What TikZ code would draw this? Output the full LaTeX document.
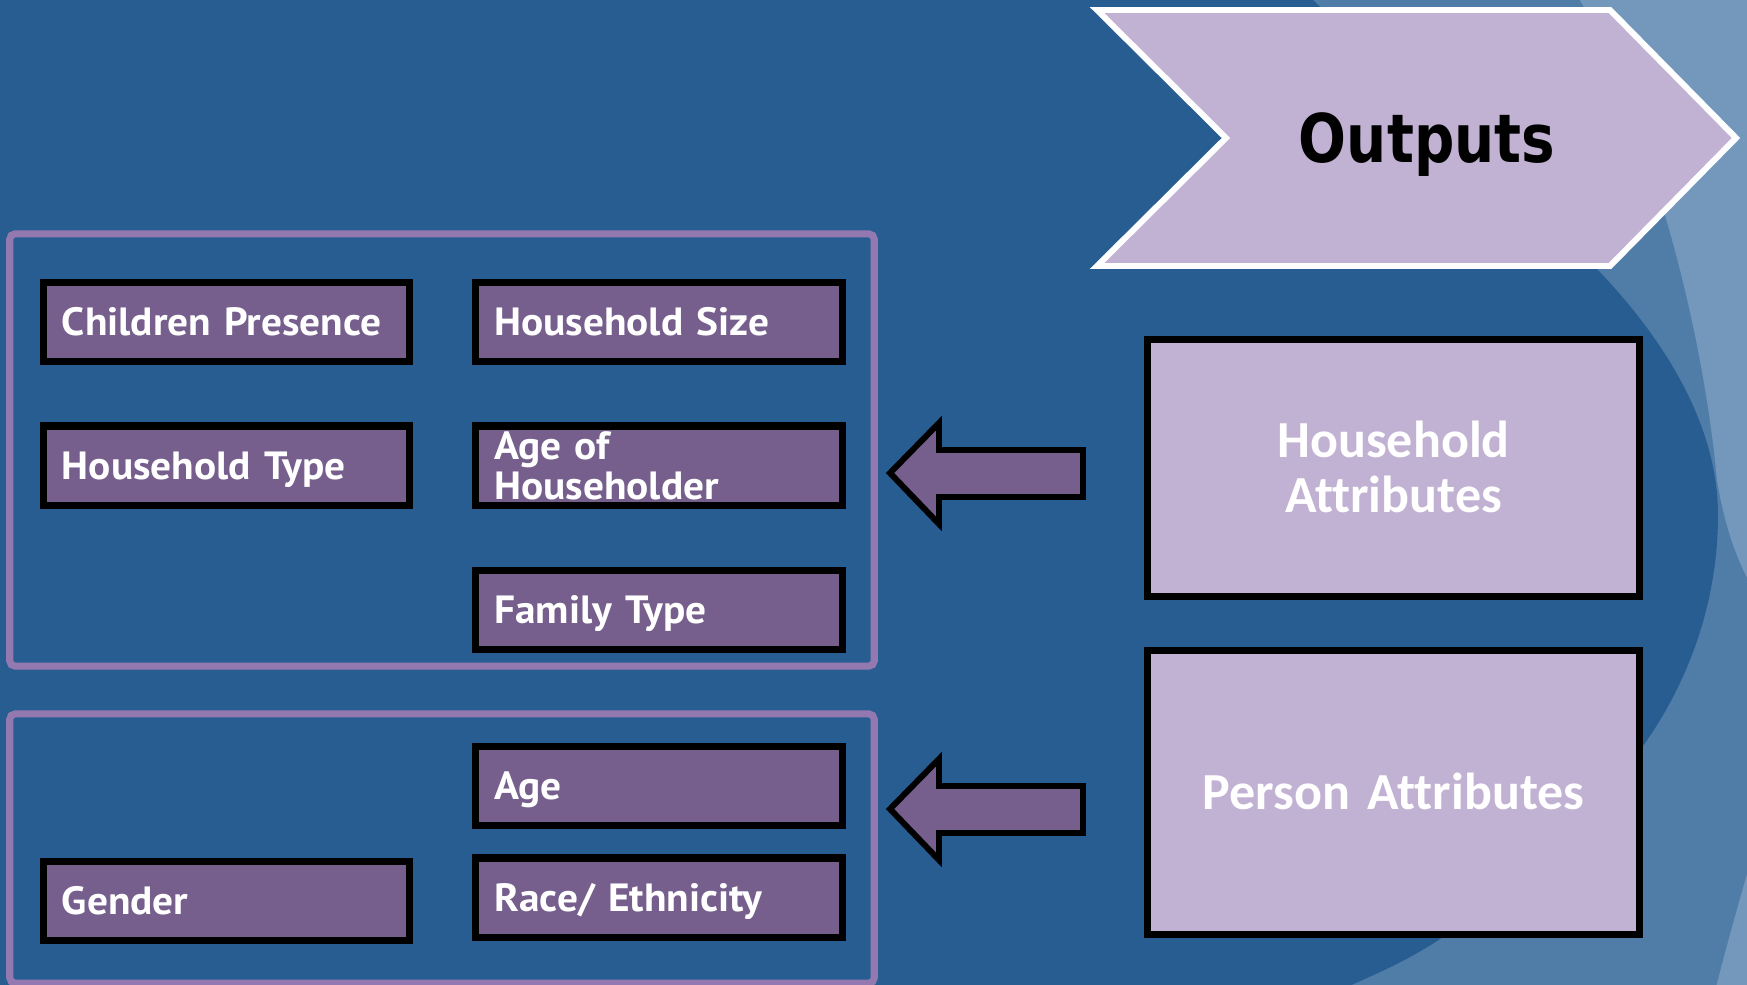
\documentclass[tikz,border=0pt]{standalone}
\usepackage{fontspec}
\usepackage{graphicx}
\setmainfont[FakeStretch=1.05, WordSpace=0.75]{PT Sans}
\newfontfamily\attrfont[Ligatures=NoCommon]{Carlito}
\newfontfamily\headfont{DejaVu Sans}
\definecolor{bgdark}{HTML}{275D91}
\definecolor{bgmid}{HTML}{507DA8}
\definecolor{bglight}{HTML}{7398BC}
\definecolor{lavender}{HTML}{C1B1D2}
\definecolor{boxpurple}{HTML}{765F8C}
\definecolor{grpline}{HTML}{9479B0}
\begin{document}
\begin{tikzpicture}[x=0.01cm,y=-0.01cm,
  attr/.style={draw=black, line width=2pt, fill=boxpurple, text=white,
    inner xsep=0.185cm, inner ysep=0pt, text width=3.29cm, align=left,
    minimum height=0.79cm, font=\fontsize{11.2}{11.4}\selectfont\bfseries,
    text height=7.8pt, text depth=0pt},
  group/.style={draw=grpline, line width=2pt, rounded corners=1.5pt,
    minimum width=8.64cm, inner sep=0pt},
  bigbox/.style={draw=black, line width=1.8pt, fill=lavender, text=white,
    inner sep=0pt, minimum width=4.92cm, text width=4.92cm, align=center,
    font=\attrfont\fontsize{14.8}{15.6}\selectfont\bfseries,
    text height=9.5pt, text depth=0pt},
  blockarrow/.style={draw=black, line width=1.7pt, fill=boxpurple, line join=miter},
  chevron/.style={draw=white, line width=1.7pt, fill=lavender, line join=miter}
]
\useasboundingbox (0,0) rectangle (1747,984);
\clip (0,0) rectangle (1747,984);

% background: layered arcs
\fill[bgmid] (-10,-10) rectangle (1760,1000);
\fill[bglight] (1574,-10) -- (1580,0) .. controls (1640,110) and (1700,300) .. (1717,480)
  .. controls (1725,530) and (1740,570) .. (1760,600) -- (1760,-10) -- cycle;
\fill[bglight] (1760,830) .. controls (1745,880) and (1728,940) .. (1714,995) -- (1760,995) -- cycle;
\fill[bgdark] (-10,-10) -- (1303,-10) -- (1313,0) -- (1597,269)
  .. controls (1670,345) and (1718,430) .. (1718,515)
  .. controls (1718,600) and (1690,680) .. (1643,746)
  .. controls (1590,820) and (1500,900) .. (1437,941)
  .. controls (1400,965) and (1370,976) .. (1330,995)
  -- (-10,995) -- cycle;

% grouping frames
\node[group, minimum height=4.32cm] (g1) at (442,450) {};
\node[group, minimum height=2.69cm] (g2) at (442,848.5) {};

% household attribute boxes
\node[attr] (cp) at (226.5,322) {Children Presence};
\node[attr] (hs) at (659,322) {Household Size};
\node[attr] (ht) at (226.5,465.5) {Household Type};
\node[attr, text depth=11.4pt] (ah) at (659,465.5) {Age of\\Householder};
\node[attr] (ft) at (659,610) {Family Type};

% person attribute boxes
\node[attr] (ag) at (659,786) {Age};
\node[attr] (ge) at (226.5,901) {Gender};
\node[attr] (re) at (659,897.5) {Race/ Ethnicity};

% summary boxes
\node[bigbox, minimum height=2.57cm, text depth=15.6pt] (ha) at (1393.5,468) {Household\\Attributes};
\node[bigbox, minimum height=2.84cm] (pa) at (1393.5,792.5) {Person Attributes};

% block arrows pointing to the frames
\coordinate (a1) at (890,473);
\coordinate (a2) at (890,809);
\draw[blockarrow] (a1) -- ++(49,-50) -- ++(0,27) -- ++(144,0) -- ++(0,47) -- ++(-144,0) -- ++(0,27) -- cycle;
\draw[blockarrow] (a2) -- ++(49,-50) -- ++(0,27) -- ++(144,0) -- ++(0,47) -- ++(-144,0) -- ++(0,27) -- cycle;

% heading chevron
\draw[chevron] (1097,10) -- (1610,10) -- (1736,138) -- (1610,266) -- (1097,266) -- (1226,138) -- cycle;
\node[font=\headfont\bfseries\fontsize{19.1}{20}\selectfont, text height=13.9pt, text depth=0pt, inner sep=0pt]
  (out) at (1427,138) {\scalebox{0.84}[1]{Outputs}};
\end{tikzpicture}
\end{document}
